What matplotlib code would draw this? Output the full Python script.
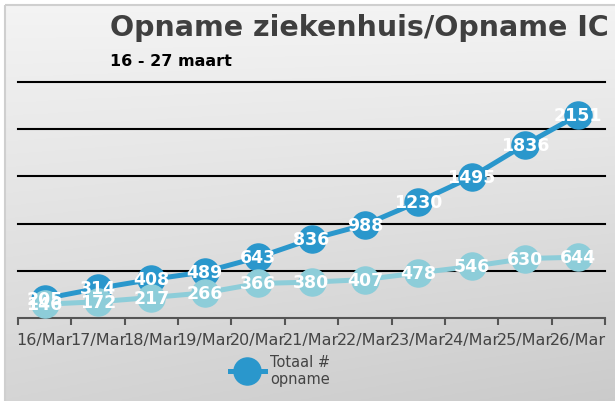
import numpy as np
import matplotlib.pyplot as plt
from matplotlib.patches import Rectangle

# --- data ---
dates = ["16/Mar", "17/Mar", "18/Mar", "19/Mar", "20/Mar", "21/Mar",
         "22/Mar", "23/Mar", "24/Mar", "25/Mar", "26/Mar"]
ziekenhuis = [205, 314, 408, 489, 643, 836, 988, 1230, 1495, 1836, 2151]
ic = [146, 172, 217, 266, 366, 380, 407, 478, 546, 630, 644]
gridvals = [500, 1000, 1500, 2000, 2500]

DARK = "#2a97cc"
LIGHT = "#8dcdd9"

W, H = 615, 402
fig = plt.figure(figsize=(W / 100, H / 100), dpi=100)
fig.patch.set_facecolor("white")

# background panel with soft gradient
bg = fig.add_axes([0, 0, 1, 1], zorder=0)
yy, xx = np.mgrid[0:1:200j, 0:1:300j]
shade = 0.955 - 0.12 * yy - 0.04 * xx * yy
bg.imshow(np.dstack([shade] * 3), extent=[5, W, H, 6], aspect="auto")
bg.add_patch(Rectangle((5, 6), W, H, fill=False, edgecolor="#cfcfcf", lw=1.5))
bg.set_xlim(0, W)
bg.set_ylim(H, 0)
bg.axis("off")

ax = fig.add_axes([18 / W, 1 - 319 / H, (605 - 18) / W, (319 - 83) / H], zorder=1)
ax.patch.set_alpha(0)
x = np.arange(len(dates))

for g in gridvals:
    ax.axhline(g, color="black", lw=1.5, zorder=1, clip_on=False)

l1, = ax.plot(x, ziekenhuis, color=DARK, lw=3.6, marker="o", ms=19.5,
              zorder=3, label="Totaal #\nopname")
ax.plot(x, ic, color=LIGHT, lw=3.6, marker="o", ms=19.5, zorder=4)

for xi, v in zip(x, ziekenhuis):
    ax.text(xi, v, str(v), color="white", fontsize=12.5, fontweight="bold",
            ha="center", va="center", zorder=5)
for xi, v in zip(x, ic):
    ax.text(xi, v, str(v), color="white", fontsize=12.5, fontweight="bold",
            ha="center", va="center", zorder=6)

ax.set_xlim(-0.5, len(dates) - 0.5)
ax.set_ylim(0, 2500)
ax.set_yticks([])
for s in ["top", "right", "left"]:
    ax.spines[s].set_visible(False)
ax.spines["bottom"].set_color("#555555")
ax.spines["bottom"].set_linewidth(1.5)

ax.set_xticks(x)
ax.set_xticklabels(dates, fontsize=11.5, color="#444444")
ax.set_xticks(np.arange(len(dates) + 1) - 0.5, minor=True)
ax.tick_params(axis="x", which="major", length=0, pad=10)
ax.tick_params(axis="x", which="minor", length=5, width=1.5, color="#555555")

fig.legend(handles=[l1], loc="center", bbox_to_anchor=(280 / W, 1 - 371 / H),
           frameon=False, fontsize=10.5, labelcolor="#444444",
           handlelength=2.4, handletextpad=0.4, markerscale=1.0)

fig.text(110 / W, 1 - 36 / H, "Opname ziekenhuis/Opname IC", fontsize=20.5,
         fontweight="bold", color="#3f3f3f", va="baseline", ha="left")
fig.text(110 / W, 1 - 66 / H, "16 - 27 maart", fontsize=11.5,
         fontweight="bold", color="black", va="baseline", ha="left")

fig.savefig("out.png", dpi=100)
